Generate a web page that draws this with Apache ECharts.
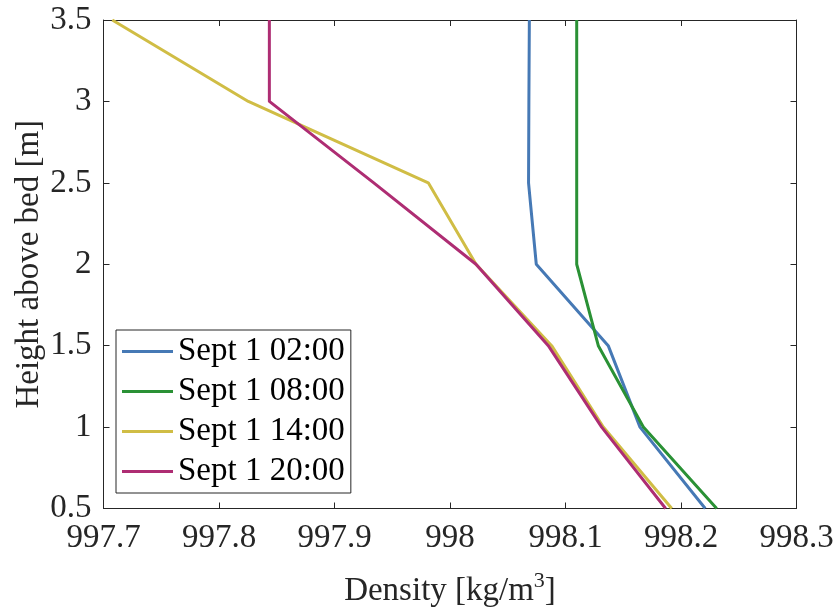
<!DOCTYPE html>
<html>
<head>
<meta charset="utf-8">
<script src="https://cdn.jsdelivr.net/npm/echarts@6/dist/echarts.min.js"></script>
<style>
  html, body { margin: 0; padding: 0; background: #fff; }
  #main { width: 837px; height: 613px; }
</style>
</head>
<body>
<div id="main"></div>
<script>
var heights = [0.5, 1, 1.5, 2, 2.5, 3, 3.5];
var seriesNames = ['Sept 1 02:00', 'Sept 1 08:00', 'Sept 1 14:00', 'Sept 1 20:00'];
var density0200 = [998.221, 998.1645, 998.137, 998.0747, 998.068, 998.0683, 998.0687];
var density0800 = [998.2309, 998.1674, 998.1284, 998.1097, 998.1097, 998.1097, 998.1097];
var density1400 = [998.192, 998.1327, 998.088, 998.0225, 997.9812, 997.8254, 997.7076];
var density2000 = [998.1867, 998.1313, 998.0851, 998.0225, 997.934, 997.8436, 997.8436];
var xTicks = [997.7, 997.8, 997.9, 998, 998.1, 998.2, 998.3];
var yTicks = [0.5, 1, 1.5, 2, 2.5, 3, 3.5];

var colors = ['#4679B5', '#2A9135', '#D0BD45', '#AE2D73'];
var font = '"Liberation Serif", "Times New Roman", serif';
var ink = '#262626';

var allDensity = [density0200, density0800, density1400, density2000];

// 每条曲线：密度 -> x，高度 -> y
var series = [];
allDensity.forEach(function (d, i) {
    series.push({
        name: seriesNames[i],
        type: 'line',
        xAxisIndex: 0,
        yAxisIndex: 0,
        symbol: 'none',
        lineStyle: { width: 3, color: colors[i] },
        itemStyle: { color: colors[i] },
        data: d.map(function (v, k) { return [v, heights[k]]; })
    });
});

var myChart = echarts.init(document.getElementById('main'));

var tickStyle = { show: true, inside: true, length: 6, lineStyle: { color: ink, width: 1 } };

var option = {
    animation: false,
    backgroundColor: '#fff',
    color: colors,
    grid: { left: 103.5, right: 40.5, top: 20, bottom: 103, containLabel: false },
    legend: {
        orient: 'vertical',
        left: 116,
        top: 330,
        padding: [5, 6, 5, 6],
        itemGap: 7,
        itemWidth: 51,
        itemHeight: 3,
        icon: 'rect',
        backgroundColor: '#fff',
        borderColor: ink,
        borderWidth: 1,
        borderRadius: 0,
        textStyle: { fontFamily: font, fontSize: 33, color: '#000', lineHeight: 33 },
        data: seriesNames
    },
    xAxis: [{
        type: 'value',
        min: 997.7,
        max: 998.3,
        interval: 0.1,
        name: '{a|Density [kg/m}{s|3}{a|]}',
        nameLocation: 'middle',
        nameGap: 62,
        nameMoveOverlap: false,
        nameTextStyle: {
            rich: {
                a: { fontFamily: font, fontSize: 33, color: ink },
                s: { fontFamily: font, fontSize: 22, color: ink, verticalAlign: 'top', padding: [0, 0, 20, 0] }
            }
        },
        axisLine: { show: true, onZero: false, lineStyle: { color: ink, width: 1 } },
        axisTick: tickStyle,
        splitLine: { show: false },
        axisLabel: {
            margin: 13,
            fontFamily: font,
            fontSize: 33,
            color: ink,
            formatter: function (v) { return String(+v.toFixed(1)); }
        }
    }, {
        type: 'value',
        position: 'top',
        min: 997.7,
        max: 998.3,
        interval: 0.1,
        axisLine: { show: true, onZero: false, lineStyle: { color: ink, width: 1 } },
        axisTick: tickStyle,
        splitLine: { show: false },
        axisLabel: { show: false }
    }],
    yAxis: [{
        type: 'value',
        min: 0.5,
        max: 3.5,
        interval: 0.5,
        name: 'Height above bed [m]',
        nameLocation: 'middle',
        nameGap: 58,
        nameMoveOverlap: false,
        nameTextStyle: { fontFamily: font, fontSize: 33, color: ink },
        axisLine: { show: true, onZero: false, lineStyle: { color: ink, width: 1 } },
        axisTick: tickStyle,
        splitLine: { show: false },
        axisLabel: {
            margin: 12,
            fontFamily: font,
            fontSize: 33,
            color: ink,
            formatter: function (v) { return String(+v.toFixed(1)); }
        }
    }, {
        type: 'value',
        position: 'right',
        min: 0.5,
        max: 3.5,
        interval: 0.5,
        axisLine: { show: true, onZero: false, lineStyle: { color: ink, width: 1 } },
        axisTick: tickStyle,
        splitLine: { show: false },
        axisLabel: { show: false }
    }],
    series: series
};

myChart.setOption(option, true);
</script>
</body>
</html>
